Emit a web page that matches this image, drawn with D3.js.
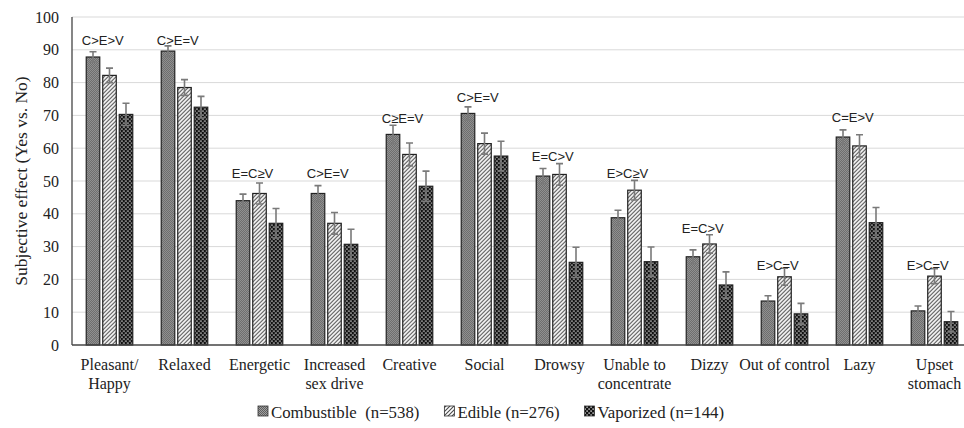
<!DOCTYPE html>
<html>
<head>
<meta charset="utf-8">
<script src="https://cdn.jsdelivr.net/npm/d3@7"></script>
<style>
  body { margin: 0; background: #fff; }
  svg { display: block; }
  .serif { font-family: "Liberation Serif", "Times New Roman", serif; }
  .sans { font-family: "Liberation Sans", Arial, sans-serif; }
</style>
</head>
<body>
<svg id="chart" width="964" height="428"></svg>
<script>
var categories = [
  "Pleasant/|Happy", "Relaxed", "Energetic", "Increased|sex drive", "Creative", "Social",
  "Drowsy", "Unable to|concentrate", "Dizzy", "Out of control", "Lazy", "Upset|stomach"
];
var seriesNames = ["Combustible  (n=538)", "Edible (n=276)", "Vaporized (n=144)"];

var combustible = [87.8, 89.6, 44.0, 46.2, 64.2, 70.6, 51.5, 38.8, 26.9, 13.4, 63.4, 10.4];
var edible      = [82.2, 78.5, 46.2, 37.1, 58.1, 61.4, 52.0, 47.2, 30.8, 20.8, 60.7, 21.0];
var vaporized   = [70.3, 72.5, 37.1, 30.7, 48.4, 57.6, 25.2, 25.4, 18.3, 9.5, 37.3, 7.1];

var combustibleErr = [1.6, 1.6, 2.0, 2.4, 2.8, 2.0, 2.3, 2.3, 2.1, 1.6, 2.2, 1.5];
var edibleErr      = [2.2, 2.4, 3.2, 3.3, 3.5, 3.2, 3.3, 3.0, 2.8, 2.6, 3.4, 2.3];
var vaporizedErr   = [3.4, 3.3, 4.5, 4.6, 4.6, 4.5, 4.6, 4.5, 4.0, 3.2, 4.6, 3.1];

// pairwise comparison labels and the level (in y units) where they sit
var comparisons = ["C>E>V", "C>E=V", "E=C\u2265V", "C>E=V", "C\u2265E=V", "C>E=V",
  "E=C>V", "E>C\u2265V", "E=C>V", "E>C=V", "C=E>V", "E>C=V"];
var comparisonLevel = [91.5, 91.5, 50.9, 50.9, 67.7, 74.2, 56.1, 50.9, 34.1, 22.9, 68, 22.9];

var yTicks = [0, 10, 20, 30, 40, 50, 60, 70, 80, 90, 100];

var svg = d3.select("#chart");
var margin = {left: 72, top: 17, bottom: 345};
var plotWidth = 900;

var values = [combustible, edible, vaporized];
var errors = [combustibleErr, edibleErr, vaporizedErr];
var fills = ["url(#pat-comb)", "url(#pat-edib)", "url(#pat-vapo)"];

// patterns
var defs = svg.append("defs");
var pc = defs.append("pattern").attr("id", "pat-comb")
  .attr("patternUnits", "userSpaceOnUse").attr("width", 2).attr("height", 2);
pc.append("rect").attr("width", 2).attr("height", 2).attr("fill", "#a0a0a0");
pc.append("rect").attr("width", 1).attr("height", 1).attr("fill", "#5e5e5e");
pc.append("rect").attr("x", 1).attr("y", 1).attr("width", 1).attr("height", 1).attr("fill", "#5e5e5e");

var pe = defs.append("pattern").attr("id", "pat-edib")
  .attr("patternUnits", "userSpaceOnUse").attr("width", 4).attr("height", 4);
pe.append("rect").attr("width", 4).attr("height", 4).attr("fill", "#fff");
pe.append("path").attr("d", "M-1,5 L5,-1 M-1,1 L1,-1 M3,5 L5,3")
  .attr("stroke", "#4a4a4a").attr("stroke-width", 1.1);

var pv = defs.append("pattern").attr("id", "pat-vapo")
  .attr("patternUnits", "userSpaceOnUse").attr("width", 4).attr("height", 4);
pv.append("rect").attr("width", 4).attr("height", 4).attr("fill", "#111");
pv.append("rect").attr("x", 0.4).attr("y", 0.4).attr("width", 1.4).attr("height", 1.4).attr("fill", "#e0e0e0");
pv.append("rect").attr("x", 2.4).attr("y", 2.4).attr("width", 1.4).attr("height", 1.4).attr("fill", "#e0e0e0");

var x0 = d3.scaleBand().domain(d3.range(categories.length))
  .range([margin.left, margin.left + plotWidth])
  .paddingInner(0.34).paddingOuter(0.17);
var x1 = d3.scaleBand().domain(d3.range(3))
  .range([0, x0.bandwidth()])
  .paddingInner(0.18).paddingOuter(0.09);
var y = d3.scaleLinear().domain([0, 100]).range([margin.bottom, margin.top]);

// gridlines
svg.append("g").selectAll("line").data(yTicks.slice(1)).enter().append("line")
  .attr("x1", margin.left).attr("x2", 964)
  .attr("y1", d => y(d)).attr("y2", d => y(d))
  .attr("stroke", "#d9d9d9").attr("stroke-width", 1);

// y tick labels
svg.append("g").selectAll("text").data(yTicks).enter().append("text")
  .attr("class", "serif")
  .attr("x", 59).attr("y", d => y(d) + 5.5)
  .attr("text-anchor", "end")
  .attr("font-size", 16).attr("fill", "#222")
  .text(d => d);

// y title
svg.append("text")
  .attr("class", "serif")
  .attr("transform", "translate(27," + ((margin.top + margin.bottom) / 2) + ") rotate(-90)")
  .attr("text-anchor", "middle")
  .attr("font-size", 17.5).attr("fill", "#222")
  .text("Subjective effect (Yes vs. No)");

// bars
var groups = svg.append("g").selectAll("g").data(categories).enter().append("g")
  .attr("transform", (d, i) => "translate(" + x0(i) + ",0)");

var barData = (d, i) => values.map((s, k) => ({k: k, v: s[i], e: errors[k][i]}));

groups.selectAll("rect").data(barData)
  .enter().append("rect")
  .attr("x", d => x1(d.k)).attr("width", x1.bandwidth())
  .attr("y", d => y(d.v)).attr("height", d => y(0) - y(d.v))
  .attr("fill", d => fills[d.k])
  .attr("stroke", "#222").attr("stroke-width", 1.2);

// error bars
groups.selectAll("path.err").data(barData)
  .enter().append("path").attr("class", "err")
  .attr("d", function (d) {
    var cx = x1(d.k) + x1.bandwidth() / 2;
    var t = y(d.v + d.e), b = y(d.v - d.e);
    return "M" + cx + "," + t + "V" + b + "M" + (cx - 3.5) + "," + t + "H" + (cx + 3.5) +
      "M" + (cx - 3.5) + "," + b + "H" + (cx + 3.5);
  })
  .attr("stroke", "#7a7a7a").attr("stroke-width", 1.6).attr("fill", "none");

// comparison labels
groups.append("text")
  .attr("class", "sans")
  .attr("x", -3)
  .attr("y", (d, i) => y(comparisonLevel[i]))
  .attr("font-size", 13).attr("fill", "#222")
  .text((d, i) => comparisons[i]);

// axes lines
svg.append("line").attr("x1", margin.left).attr("x2", margin.left)
  .attr("y1", y(100)).attr("y2", y(0)).attr("stroke", "#444").attr("stroke-width", 1.3);
svg.append("line").attr("x1", margin.left).attr("x2", 964)
  .attr("y1", y(0)).attr("y2", y(0)).attr("stroke", "#444").attr("stroke-width", 1.3);

// category labels
var catText = svg.append("g").selectAll("text").data(categories).enter().append("text")
  .attr("class", "serif")
  .attr("text-anchor", "middle")
  .attr("font-size", 16).attr("fill", "#222");
catText.selectAll("tspan").data((d, i) => d.split("|").map(t => ({t: t, i: i})))
  .enter().append("tspan")
  .attr("x", d => x0(d.i) + x0.bandwidth() / 2)
  .attr("y", (d, j) => 370 + j * 18.5)
  .text(d => d.t);

// legend
var legend = svg.append("g");
var lx = 258;
seriesNames.forEach(function (name, k) {
  legend.append("rect").attr("x", lx).attr("y", 406).attr("width", 10).attr("height", 10)
    .attr("fill", fills[k]).attr("stroke", "#333").attr("stroke-width", 0.8);
  var t = legend.append("text").attr("class", "serif")
    .attr("x", lx + 13).attr("y", 418)
    .attr("font-size", 16.8).attr("fill", "#222")
    .style("white-space", "pre")
    .text(name);
  lx += 13 + t.node().getComputedTextLength() + 25;
});
</script>
</body>
</html>
